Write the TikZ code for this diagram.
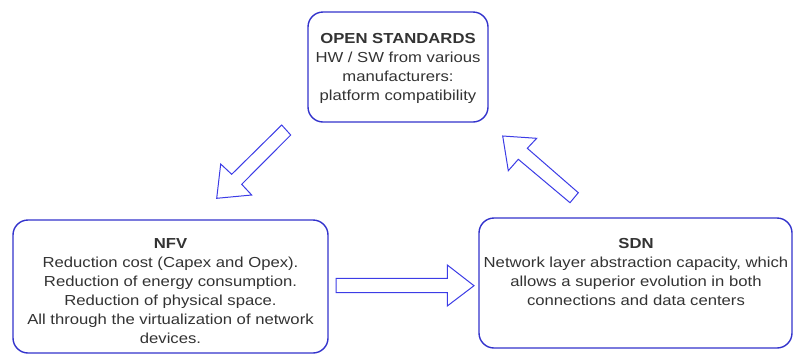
\documentclass[tikz,border=0pt]{standalone}
\usepackage{fontspec}
\setmainfont{Liberation Sans}[FakeStretch=1.15]
\definecolor{boxblue}{RGB}{51,51,204}
\definecolor{arrowblue}{RGB}{60,60,230}
\definecolor{txt}{RGB}{51,51,51}
\begin{document}
\begin{tikzpicture}[x=1pt,y=-1pt,
  card/.style={draw=boxblue,line width=1.4pt,rounded corners=15pt,fill=white},
  label/.style={text=txt,align=center,font=\fontsize{14.5}{19}\selectfont,inner sep=0pt},
  blockarrow/.style={draw=arrowblue,line width=1pt,line join=miter,fill=white}]
\useasboundingbox (0,0) rectangle (795,354);

% boxes
\draw[card] (308,12) rectangle (488,122);
\draw[card] (13,220) rectangle (328,353);
\draw[card] (479,218) rectangle (792,348);

% texts (anchored at the baseline of their last line)
\node[label,anchor=base] (os) at (398,100) {\textbf{OPEN STANDARDS}\\HW / SW from various\\manufacturers:\\platform compatibility};
\node[label,anchor=base] (nfv) at (170.5,343) {\textbf{NFV}\\Reduction cost (Capex and Opex).\\Reduction of energy consumption.\\Reduction of physical space.\\All through the virtualization of network\\devices.};
\node[label,anchor=base] (sdn) at (636,305) {\textbf{SDN}\\Network layer abstraction capacity, which\\allows a superior evolution in both\\connections and data centers};

% block arrows
\draw[blockarrow] (281.7,125) -- (290.7,135) -- (241.7,184.3) -- (251.7,195)
  -- (216.7,198.3) -- (220.7,164) -- (231.7,174.3) -- cycle;
\draw[blockarrow] (502.7,136) -- (536.7,138.3) -- (527.3,148.3) -- (578.3,192.7)
  -- (570,202.7) -- (518.3,159.3) -- (508.3,170.7) -- cycle;
\draw[blockarrow] (336,278.3) -- (447.3,278.3) -- (447.3,265) -- (474,285.7)
  -- (447.3,306) -- (447.3,292.7) -- (336,292.7) -- cycle;
\end{tikzpicture}
\end{document}
